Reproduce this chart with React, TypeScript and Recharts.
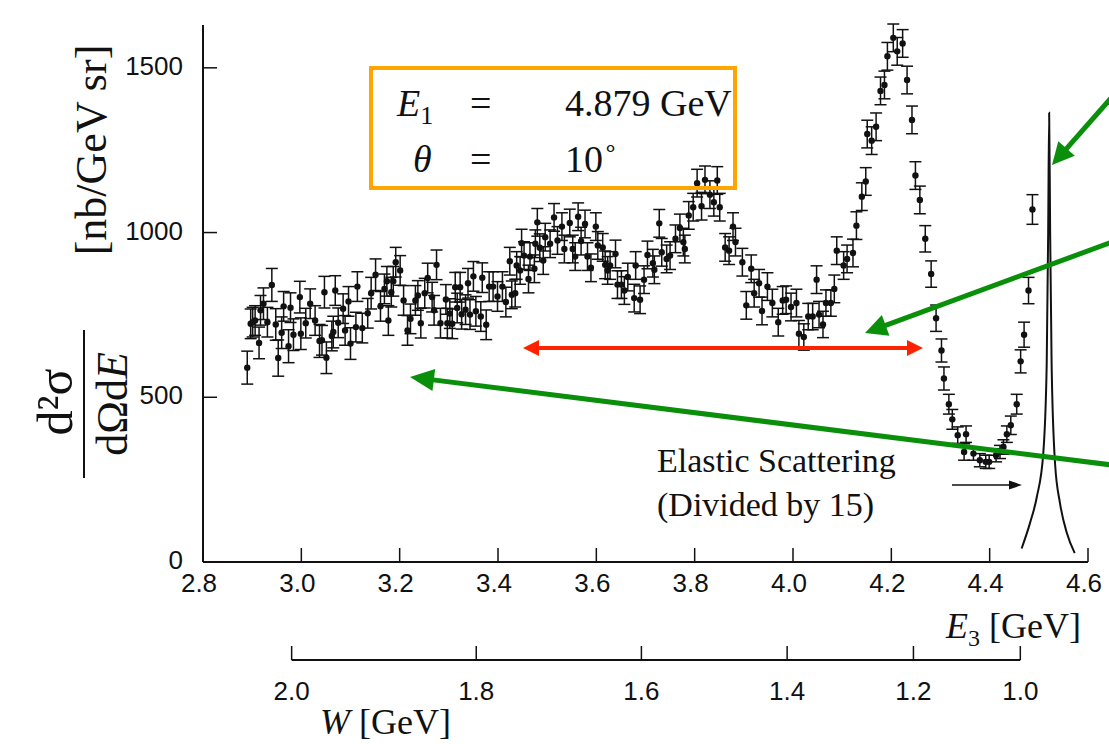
import { ComposedChart, Scatter, Line, XAxis, YAxis, ErrorBar } from 'recharts'

// kinematics for the W scale: E1 = 4.879 GeV, theta = 10 deg, proton target
const M_P = 0.938
const E1 = 4.879
const THETA_DEG = 10
const SIN2 = Math.sin((THETA_DEG * Math.PI) / 360) ** 2
const wToE3 = (w: number) => (M_P * M_P + 2 * M_P * E1 - w * w) / (2 * M_P + 4 * E1 * SIN2)
const e3ToW = (e3: number) => Math.sqrt(M_P * M_P + 2 * M_P * (E1 - e3) - 4 * E1 * e3 * SIN2)

const E3_TICKS = [2.8, 3.0, 3.2, 3.4, 3.6, 3.8, 4.0, 4.2, 4.4, 4.6]
const Y_TICKS = [0, 500, 1000, 1500]
const W_TICKS = [2.0, 1.8, 1.6, 1.4, 1.2, 1.0]

// [E3 (GeV), d2sigma (nb/GeV sr), error]
const SHOULDER = [
  [2.890, 590, 50], [2.897, 723, 45], [2.901, 728, 45], [2.906, 733, 45], [2.914, 665, 48],
  [2.917, 764, 45], [2.923, 784, 48], [2.931, 728, 45], [2.940, 841, 50], [2.948, 721, 48],
  [2.953, 619, 55], [2.960, 696, 48], [2.964, 776, 45], [2.974, 655, 50], [2.978, 772, 45],
  [2.984, 690, 48], [2.997, 804, 48], [2.999, 693, 48], [3.009, 725, 45], [3.018, 784, 45],
  [3.028, 733, 45], [3.037, 671, 50], [3.042, 673, 45], [3.047, 819, 48], [3.051, 620, 48],
  [3.062, 686, 45], [3.065, 698, 48], [3.069, 824, 45], [3.075, 726, 45], [3.085, 769, 45],
  [3.089, 703, 45], [3.096, 791, 45], [3.100, 663, 48], [3.111, 713, 45], [3.114, 836, 45],
  [3.124, 710, 45], [3.135, 755, 45], [3.142, 816, 48], [3.151, 872, 48], [3.161, 776, 45],
  [3.169, 829, 45], [3.174, 852, 45], [3.177, 733, 45], [3.183, 819, 45], [3.187, 852, 45],
  [3.192, 910, 45], [3.201, 885, 45], [3.208, 794, 45], [3.216, 703, 45], [3.222, 738, 45],
  [3.232, 794, 45], [3.237, 809, 45], [3.243, 725, 45], [3.251, 816, 45], [3.257, 862, 45],
  [3.266, 804, 45], [3.270, 764, 45], [3.275, 902, 45], [3.283, 725, 45], [3.294, 797, 45],
  [3.297, 725, 45], [3.302, 754, 45], [3.307, 723, 45], [3.313, 834, 45], [3.317, 771, 45],
  [3.323, 834, 45], [3.326, 752, 45], [3.334, 766, 45], [3.339, 846, 45], [3.343, 751, 45],
  [3.350, 867, 45], [3.355, 761, 45], [3.365, 745, 45], [3.368, 863, 45], [3.376, 720, 45],
  [3.382, 836, 45], [3.390, 836, 45], [3.399, 806, 45], [3.409, 836, 45], [3.416, 789, 45],
]

const DELTA = [
  [3.424, 913, 42], [3.428, 811, 42], [3.435, 816, 42], [3.438, 900, 42], [3.445, 885, 42],
  [3.448, 968, 42], [3.453, 930, 42], [3.462, 859, 42], [3.465, 927, 42], [3.474, 890, 42],
  [3.476, 966, 42], [3.480, 1031, 42], [3.485, 954, 42], [3.492, 915, 42], [3.496, 986, 42],
  [3.506, 966, 42], [3.514, 1046, 42], [3.521, 976, 42], [3.530, 1018, 42], [3.535, 950, 42],
  [3.546, 1029, 42], [3.552, 950, 42], [3.557, 927, 42], [3.563, 1048, 42], [3.569, 974, 42],
  [3.577, 1026, 42], [3.582, 927, 42], [3.589, 893, 42], [3.599, 1018, 42], [3.603, 961, 42],
  [3.613, 955, 42], [3.618, 902, 42], [3.623, 885, 42], [3.628, 900, 42], [3.639, 935, 42],
  [3.643, 842, 42], [3.651, 842, 42], [3.657, 824, 42], [3.664, 865, 42], [3.677, 801, 42],
  [3.680, 900, 42], [3.689, 796, 42], [3.697, 857, 42], [3.704, 932, 42], [3.715, 907, 42],
  [3.718, 887, 42], [3.728, 1028, 42], [3.733, 940, 42], [3.743, 920, 42], [3.750, 930, 42],
  [3.761, 981, 42], [3.770, 1014, 42], [3.777, 971, 42], [3.780, 950, 42], [3.788, 1052, 42],
  [3.797, 1077, 42], [3.805, 1150, 42], [3.814, 1080, 42], [3.821, 1160, 42], [3.831, 1115, 42],
  [3.839, 1092, 42], [3.846, 1158, 42], [3.851, 1077, 42], [3.862, 955, 42], [3.870, 945, 42],
  [3.878, 1018, 42], [3.883, 971, 42], [3.897, 910, 42],
]

const DIP = [
  [3.905, 779, 42], [3.915, 890, 42], [3.921, 816, 42], [3.931, 846, 42], [3.937, 762, 42],
  [3.948, 836, 42], [3.958, 786, 42], [3.970, 728, 42], [3.979, 794, 42], [3.986, 796, 42],
  [3.996, 774, 42], [4.007, 786, 42], [4.012, 693, 40], [4.022, 683, 40], [4.031, 745, 40],
  [4.040, 745, 40], [4.048, 857, 42], [4.053, 751, 40], [4.061, 721, 40], [4.067, 786, 40],
  [4.077, 786, 40], [4.084, 829, 42], [4.089, 945, 42], [4.103, 900, 42], [4.110, 920, 42],
]

const RESONANCE = [
  [4.122, 938, 42], [4.129, 1021, 42], [4.140, 1109, 42], [4.148, 1155, 42], [4.151, 1299, 42],
  [4.160, 1279, 42], [4.169, 1321, 42], [4.178, 1430, 42], [4.186, 1448, 42], [4.192, 1535, 42],
  [4.204, 1591, 42], [4.212, 1550, 42], [4.223, 1574, 42], [4.232, 1463, 42], [4.242, 1342, 42],
  [4.249, 1173, 42], [4.258, 1099, 42], [4.269, 981, 40], [4.281, 874, 40], [4.291, 740, 40],
  [4.302, 642, 35], [4.307, 557, 35], [4.317, 479, 30], [4.324, 433, 30], [4.335, 385, 25],
  [4.348, 334, 25], [4.352, 388, 25], [4.367, 329, 20], [4.380, 309, 20], [4.392, 304, 20],
  [4.399, 304, 20], [4.413, 324, 20], [4.421, 334, 20], [4.428, 349, 22], [4.435, 388, 25],
  [4.443, 415, 28], [4.455, 479, 30], [4.463, 609, 35], [4.470, 690, 38], [4.479, 824, 40],
  [4.487, 1070, 45],
]

// elastic peak (divided by 15)
const ELASTIC_E3 = [4.465, 4.482, 4.496, 4.509, 4.516, 4.519, 4.521, 4.523, 4.526, 4.533, 4.543, 4.557, 4.573]
const ELASTIC_SIGMA = [41, 118, 198, 329, 600, 1000, 1364, 1000, 600, 299, 179, 88, 27]

const points = [...SHOULDER, ...DELTA, ...DIP, ...RESONANCE].map(([e3, sigma, err]) => ({ e3, sigma, err }))
const elastic = ELASTIC_E3.map((e3, i) => ({ e3, sigma: ELASTIC_SIGMA[i] }))
const wTickE3 = W_TICKS.map(wToE3)
const wLine = [
  { e3: wTickE3[0], v: 0 },
  { e3: wTickE3[wTickE3.length - 1], v: 0 },
]

const SANS = "'Liberation Sans', Arial, sans-serif"
const SERIF = "'Liberation Serif', 'Times New Roman', serif"
const INK = '#111'

function E3Tick(props: any) {
  const { x, y, payload } = props
  return (
    <g>
      <line x1={x} y1={y} x2={x} y2={y - 14} stroke={INK} strokeWidth={1.5} />
      <text x={x - 4} y={y + 30} textAnchor="middle" fontFamily={SANS} fontSize={26} fill={INK}>
        {Number(payload.value).toFixed(1)}
      </text>
    </g>
  )
}

function YTick(props: any) {
  const { x, y, payload } = props
  return (
    <g>
      <line x1={x} y1={y} x2={x + 14} y2={y} stroke={INK} strokeWidth={1.5} />
      <text x={x - 20} y={y + 7} textAnchor="end" fontFamily={SANS} fontSize={26} fill={INK}>
        {payload.value}
      </text>
    </g>
  )
}

function WTick(props: any) {
  const { x, y, payload } = props
  return (
    <g>
      <line x1={x} y1={y} x2={x} y2={y - 14} stroke={INK} strokeWidth={1.5} />
      <text x={x} y={y + 40} textAnchor="middle" fontFamily={SANS} fontSize={26} fill={INK}>
        {e3ToW(payload.value).toFixed(1)}
      </text>
    </g>
  )
}

function Dot(props: any) {
  const { cx, cy } = props
  return <circle cx={cx} cy={cy} r={3.2} fill={INK} />
}

function Arrow({ x1, y1, x2, y2, color, width, head, headW, both = false }: any) {
  const ang = Math.atan2(y2 - y1, x2 - x1)
  const ux = Math.cos(ang)
  const uy = Math.sin(ang)
  const tri = (tx: number, ty: number, dir: number) => {
    const bx = tx - dir * ux * head
    const by = ty - dir * uy * head
    return `${tx},${ty} ${bx - uy * headW},${by + ux * headW} ${bx + uy * headW},${by - ux * headW}`
  }
  const sx = both ? x1 + ux * head * 0.8 : x1
  const sy = both ? y1 + uy * head * 0.8 : y1
  return (
    <g>
      <line x1={sx} y1={sy} x2={x2 - ux * head * 0.8} y2={y2 - uy * head * 0.8} stroke={color} strokeWidth={width} />
      <polygon points={tri(x2, y2, 1)} fill={color} />
      {both && <polygon points={tri(x1, y1, -1)} fill={color} />}
    </g>
  )
}

export default function App() {
  return (
    <div style={{ position: 'absolute', left: 0, top: 0, width: 1109, height: 744, background: '#fff', overflow: 'hidden' }}>
      <div style={{ position: 'absolute', left: 0, top: 0 }}>
        <ComposedChart width={1109} height={602} margin={{ top: 25, right: 21, bottom: 0, left: 123 }}>
          <XAxis
            dataKey="e3"
            type="number"
            domain={[2.8, 4.6]}
            ticks={E3_TICKS}
            interval={0}
            height={40}
            tickSize={0}
            tickMargin={0}
            tickLine={false}
            axisLine={{ stroke: INK, strokeWidth: 2 }}
            tick={E3Tick}
            allowDataOverflow
          />
          <YAxis
            type="number"
            domain={[0, 1630]}
            ticks={Y_TICKS}
            interval={0}
            width={80}
            tickSize={0}
            tickMargin={0}
            tickLine={false}
            axisLine={{ stroke: INK, strokeWidth: 2 }}
            tick={YTick}
            allowDataOverflow
          />
          <Line
            data={elastic}
            dataKey="sigma"
            type="monotone"
            stroke={INK}
            strokeWidth={2}
            dot={false}
            isAnimationActive={false}
          />
          <Scatter data={points} dataKey="sigma" fill={INK} shape={Dot} isAnimationActive={false}>
            <ErrorBar dataKey="err" direction="y" width={6} stroke={INK} strokeWidth={1.5} isAnimationActive={false} />
          </Scatter>
        </ComposedChart>
      </div>

      <div style={{ position: 'absolute', left: 0, top: 620 }}>
        <ComposedChart width={1109} height={120} margin={{ top: 0, right: 21, bottom: 0, left: 203 }}>
          <XAxis
            dataKey="e3"
            type="number"
            domain={[2.8, 4.6]}
            ticks={wTickE3}
            interval={0}
            height={80}
            tickSize={0}
            tickMargin={0}
            tickLine={false}
            axisLine={false}
            tick={WTick}
          />
          <YAxis type="number" domain={[0, 1]} hide />
          <Line data={wLine} dataKey="v" stroke={INK} strokeWidth={2} dot={false} isAnimationActive={false} />
        </ComposedChart>
      </div>

      <svg width={1109} height={744} style={{ position: 'absolute', left: 0, top: 0, pointerEvents: 'none' }}>
        {/* y axis title */}
        <g transform="translate(72,402) rotate(-90)" fontFamily={SERIF} fill={INK}>
          <text x={0} y={0} textAnchor="middle" fontSize={50}>d²σ</text>
        </g>
        <line x1={84} y1={330} x2={84} y2={478} stroke={INK} strokeWidth={2} />
        <g transform="translate(127,404) rotate(-90)" fontFamily={SERIF} fill={INK}>
          <text x={0} y={0} textAnchor="middle" fontSize={44}>
            dΩd<tspan fontStyle="italic">E</tspan>
          </text>
        </g>
        <g transform="translate(106,150) rotate(-90)" fontFamily={SERIF} fill={INK}>
          <text x={0} y={0} textAnchor="middle" fontSize={44}>[nb/GeV sr]</text>
        </g>

        {/* kinematics box */}
        <rect x={371} y={68} width={364} height={120} fill="none" stroke="#ffa500" strokeWidth={4} />
        <g fontFamily={SERIF} fill={INK} fontSize={38}>
          <text x={397} y={116}>
            <tspan fontStyle="italic">E</tspan>
            <tspan fontSize={26} dy={8}>1</tspan>
          </text>
          <text x={470} y={116}>=</text>
          <text x={565} y={116}>4.879 GeV</text>
          <text x={413} y={172} fontStyle="italic">θ</text>
          <text x={470} y={172}>=</text>
          <text x={565} y={172}>
            10<tspan fontSize={24} dy={-16}>∘</tspan>
          </text>
        </g>

        {/* annotations */}
        <Arrow x1={523} y1={348} x2={923} y2={348} color="#ff2200" width={4} head={16} headW={8} both />
        <Arrow x1={1112} y1={97} x2={1052} y2={165} color="#0a8f0a" width={5} head={22} headW={11} />
        <Arrow x1={1112} y1={242} x2={865} y2={333} color="#0a8f0a" width={5} head={22} headW={11} />
        <Arrow x1={1112} y1={465} x2={410} y2={377} color="#0a8f0a" width={5} head={24} headW={11} />
        <Arrow x1={952} y1={485} x2={1022} y2={485} color={INK} width={1.5} head={13} headW={4.5} />

        <g fontFamily={SERIF} fill={INK} fontSize={34}>
          <text x={657} y={472}>Elastic Scattering</text>
          <text x={657} y={516}>(Divided by 15)</text>
        </g>

        {/* axis titles */}
        <g fontFamily={SERIF} fill={INK} fontSize={36}>
          <text x={946} y={638}>
            <tspan fontStyle="italic">E</tspan>
            <tspan fontSize={24} dy={8}>3</tspan>
            <tspan dy={-8}> [GeV]</tspan>
          </text>
          <text x={320} y={734}>
            <tspan fontStyle="italic">W</tspan> [GeV]
          </text>
        </g>
      </svg>
    </div>
  )
}
